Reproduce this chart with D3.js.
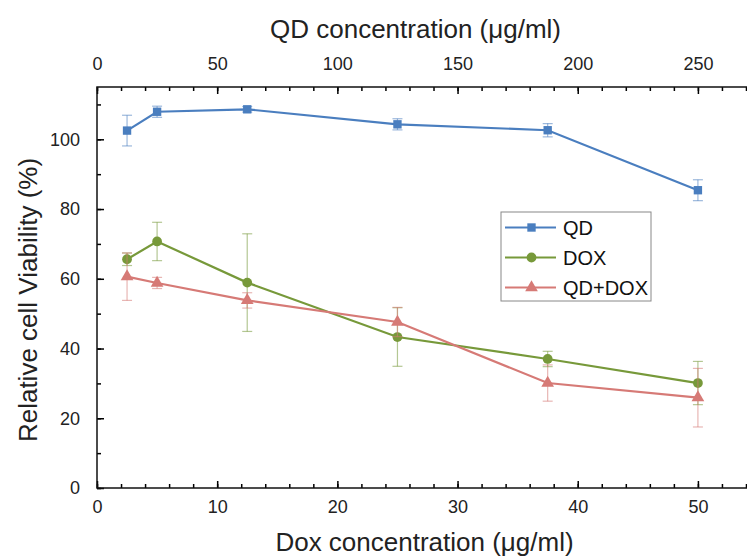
<!DOCTYPE html>
<html>
<head>
<meta charset="utf-8">
<script src="https://cdn.jsdelivr.net/npm/d3@7"></script>
<style>
  body { margin: 0; background: #fff; }
  text { font-family: "Liberation Sans", Arial, sans-serif; }
</style>
</head>
<body>
<div id="chart"></div>
<script>
// Data

const doxDoses = [2.5, 5, 12.5, 25, 37.5, 50];
const qdDoses = [12.5, 25, 62.5, 125, 187.5, 250];

const qdMean = [102.5, 107.9, 108.6, 104.3, 102.6, 85.4];
const qdErr = [4.4, 1.6, 0.8, 1.6, 1.9, 3.0];

const doxMean = [65.6, 70.7, 58.9, 43.3, 37.0, 30.1];
const doxErr = [1.8, 5.5, 14.0, 8.4, 2.2, 6.2];

const comboMean = [60.6, 58.8, 53.8, 47.6, 30.1, 25.9];
const comboErr = [6.8, 1.6, 2.2, 4.2, 5.2, 8.4];

const seriesNames = ["QD", "DOX", "QD+DOX"];
const yTicks = [0, 20, 40, 60, 80, 100];

// Config

const width = 747;
const height = 559;
const margin = { top: 87, bottom: 71, left: 97, right: -11 };
const colors = ["#4a7ebf", "#77993a", "#d67a76"];

const svg = d3.select("#chart")
  .append("svg")
  .attr("width", width)
  .attr("height", height);

// Scales

const xScale = d3.scaleLinear()
  .domain([0, 55])
  .range([margin.left, width - margin.right]);

const xTop = d3.scaleLinear()
  .domain([0, 275])
  .range([margin.left, width - margin.right]);

const yScale = d3.scaleLinear()
  .domain([0, 115])
  .range([height - margin.bottom, margin.top]);

// Axes (ticks point inward)

const fontSize = "18px";

function styleAxis(g) {
  g.select(".domain").remove();
  g.selectAll(".tick line").attr("stroke", "#000").attr("stroke-width", 1.5);
  g.selectAll(".tick text").attr("font-size", fontSize).attr("fill", "#222");
}

svg.append("g")
  .attr("transform", `translate(0, ${height - margin.bottom})`)
  .call(d3.axisBottom(xScale).tickValues(d3.range(0, 55, 2)).tickFormat("").tickSize(-4))
  .call(styleAxis);

svg.append("g")
  .attr("transform", `translate(0, ${height - margin.bottom})`)
  .call(d3.axisBottom(xScale).tickValues([0, 10, 20, 30, 40, 50]).tickSize(-7).tickPadding(12))
  .call(styleAxis);

svg.append("g")
  .attr("transform", `translate(0, ${margin.top})`)
  .call(d3.axisTop(xTop).tickValues(d3.range(0, 275, 10)).tickFormat("").tickSize(-4))
  .call(styleAxis);

svg.append("g")
  .attr("transform", `translate(0, ${margin.top})`)
  .call(d3.axisTop(xTop).tickValues([0, 50, 100, 150, 200, 250]).tickSize(-7).tickPadding(17))
  .call(styleAxis);

svg.append("g")
  .attr("transform", `translate(${margin.left}, 0)`)
  .call(d3.axisLeft(yScale).tickValues(d3.range(0, 115, 10)).tickFormat("").tickSize(-4))
  .call(styleAxis);

svg.append("g")
  .attr("transform", `translate(${margin.left}, 0)`)
  .call(d3.axisLeft(yScale).tickValues(yTicks).tickSize(-7).tickPadding(17))
  .call(styleAxis);

// Frame

svg.append("rect")
  .attr("x", margin.left)
  .attr("y", margin.top)
  .attr("width", width - margin.right - margin.left)
  .attr("height", height - margin.bottom - margin.top)
  .attr("fill", "none")
  .attr("stroke", "#111")
  .attr("stroke-width", 1.5);

// Axis titles

const plotMid = (margin.left + width - margin.right) / 2;

svg.append("text")
  .attr("x", plotMid - 12)
  .attr("y", 38)
  .attr("text-anchor", "middle")
  .attr("font-size", "26px")
  .attr("fill", "#222")
  .text("QD concentration (μg/ml)");

svg.append("text")
  .attr("x", plotMid - 3)
  .attr("y", 551)
  .attr("text-anchor", "middle")
  .attr("font-size", "26px")
  .attr("fill", "#222")
  .text("Dox concentration (μg/ml)");

svg.append("text")
  .attr("transform", "translate(37, 300) rotate(-90)")
  .attr("text-anchor", "middle")
  .attr("font-size", "26px")
  .attr("fill", "#222")
  .text("Relative cell Viability (%)");

// Series

const series = [
  { name: seriesNames[0], shape: d3.symbolSquare, size: 70,
    points: qdDoses.map((d, i) => ({ x: xTop(d), mean: qdMean[i], err: qdErr[i] })) },
  { name: seriesNames[1], shape: d3.symbolCircle, size: 75,
    points: doxDoses.map((d, i) => ({ x: xScale(d), mean: doxMean[i], err: doxErr[i] })) },
  { name: seriesNames[2], shape: d3.symbolTriangle, size: 70,
    points: doxDoses.map((d, i) => ({ x: xScale(d), mean: comboMean[i], err: comboErr[i] })) }
];

const line = d3.line()
  .x(d => d.x)
  .y(d => yScale(d.mean));

const capW = 5;

series.forEach((s, k) => {
  const g = svg.append("g");

  // error bars
  const eb = g.selectAll("g.err")
    .data(s.points)
    .join("g")
    .attr("class", "err")
    .attr("stroke", colors[k])
    .attr("stroke-opacity", 0.55)
    .attr("stroke-width", 1.2);

  eb.append("line")
    .attr("x1", d => d.x).attr("x2", d => d.x)
    .attr("y1", d => yScale(d.mean + d.err))
    .attr("y2", d => yScale(d.mean - d.err));
  eb.append("line")
    .attr("x1", d => d.x - capW).attr("x2", d => d.x + capW)
    .attr("y1", d => yScale(d.mean + d.err))
    .attr("y2", d => yScale(d.mean + d.err));
  eb.append("line")
    .attr("x1", d => d.x - capW).attr("x2", d => d.x + capW)
    .attr("y1", d => yScale(d.mean - d.err))
    .attr("y2", d => yScale(d.mean - d.err));

  g.append("path")
    .datum(s.points)
    .attr("d", line)
    .attr("fill", "none")
    .attr("stroke", colors[k])
    .attr("stroke-width", 2.2);

  g.selectAll("path.mark")
    .data(s.points)
    .join("path")
    .attr("class", "mark")
    .attr("transform", d => `translate(${d.x}, ${yScale(d.mean)})`)
    .attr("d", d3.symbol().type(s.shape).size(s.size))
    .attr("fill", colors[k]);
});

// Legend

const legend = svg.append("g").attr("transform", "translate(501, 212)");

legend.append("rect")
  .attr("width", 150)
  .attr("height", 89)
  .attr("fill", "#fff")
  .attr("stroke", "#888")
  .attr("stroke-width", 1);

series.forEach((s, k) => {
  const y = 15.5 + k * 30;
  legend.append("line")
    .attr("x1", 4).attr("x2", 55)
    .attr("y1", y).attr("y2", y)
    .attr("stroke", colors[k])
    .attr("stroke-width", 2);
  legend.append("path")
    .attr("transform", `translate(30.5, ${y})`)
    .attr("d", d3.symbol().type(s.shape).size(s.size))
    .attr("fill", colors[k]);
  legend.append("text")
    .attr("x", 62)
    .attr("y", y + 7.5)
    .attr("font-size", "20px")
    .attr("fill", "#111")
    .text(s.name);
});
</script>
</body>
</html>
